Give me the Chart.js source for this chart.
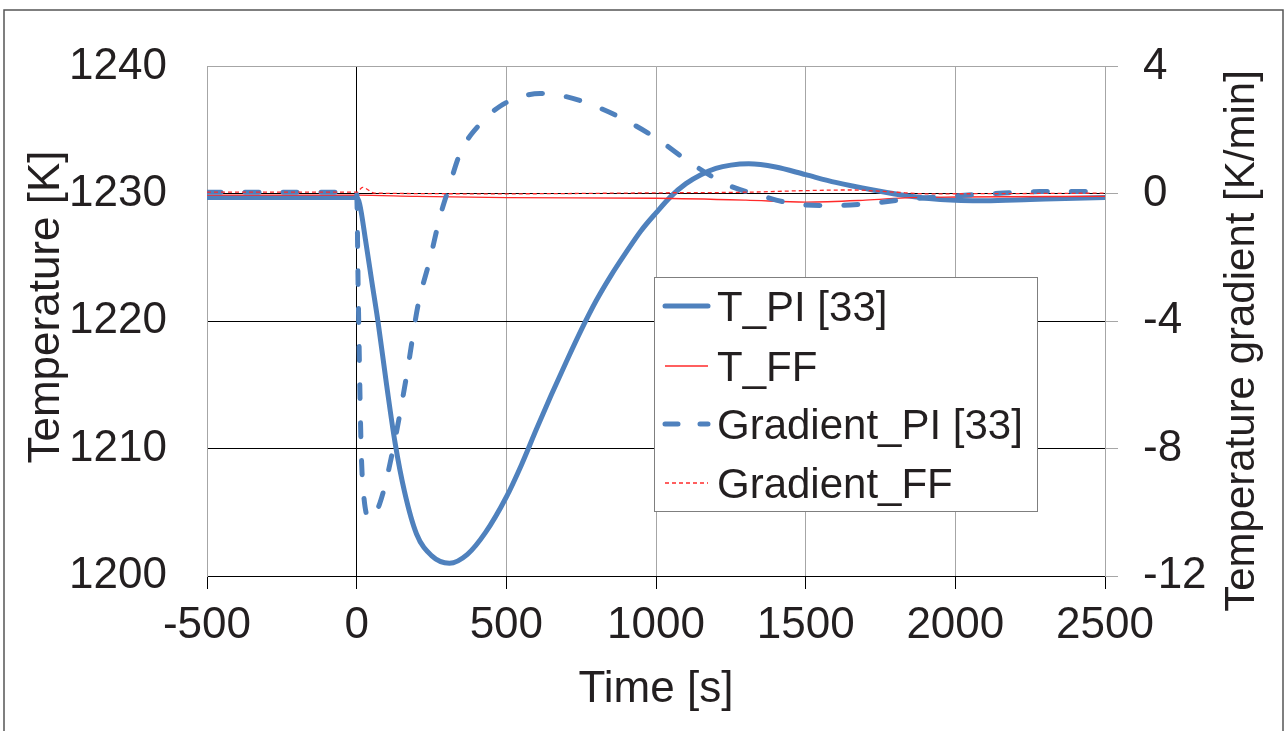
<!DOCTYPE html>
<html>
<head>
<meta charset="utf-8">
<script src="https://cdn.jsdelivr.net/npm/chart.js@4/dist/chart.umd.min.js"></script>
<style>
  body { margin: 0; background: #fff; }
  #chart { display: block; }
</style>
</head>
<body>
<canvas id="chart" width="1288" height="731"></canvas>
<script>
// Data
const tTempPI = [-500, 0, 10, 30, 50, 71, 100, 128, 160, 200, 250, 310, 370, 430, 500, 550, 600, 650, 700, 750, 800, 850, 900, 950, 1000, 1050, 1100, 1150, 1200, 1250, 1310, 1400, 1500, 1600, 1725, 1850, 1950, 2100, 2250, 2400, 2500];
const tempPI = [1229.7, 1229.7, 1229.2, 1226.3, 1223.2, 1220.0, 1215.0, 1210.5, 1206.6, 1203.3, 1201.6, 1201.0, 1201.7, 1203.4, 1206.2, 1208.7, 1211.5, 1214.2, 1216.8, 1219.3, 1221.6, 1223.6, 1225.4, 1227.1, 1228.5, 1229.8, 1230.8, 1231.5, 1232.0, 1232.25, 1232.35, 1232.1, 1231.5, 1230.9, 1230.3, 1229.8, 1229.55, 1229.45, 1229.55, 1229.65, 1229.7];

const tTempFF = [-500, 0, 200, 500, 1000, 1300, 1500, 1700, 1850, 2000, 2500];
const tempFF = [1229.9, 1229.9, 1229.8, 1229.7, 1229.65, 1229.5, 1229.35, 1229.5, 1229.7, 1229.75, 1229.8];

const tGradPI = [-500, 0, 5, 15, 25, 45, 78, 122, 167, 205, 245, 279, 306, 346, 413, 479, 550, 613, 700, 813, 900, 1000, 1114, 1237, 1348, 1472, 1592, 1716, 1840, 1973, 2116, 2283, 2500];
const gradPI = [0.05, 0.05, -3.0, -8.0, -9.6, -10.2, -9.7, -8.0, -5.7, -3.5, -2.05, -0.7, 0.13, 1.28, 2.2, 2.75, 3.05, 3.15, 3.05, 2.69, 2.3, 1.75, 0.98, 0.29, -0.05, -0.33, -0.37, -0.3, -0.17, -0.08, 0.0, 0.07, 0.07];

const tGradFF = [-500, 0, 20, 60, 500, 1000, 1300, 1500, 1650, 1800, 1900, 2500];
const gradFF = [0.05, 0.05, 0.2, 0.02, 0.0, 0.03, 0.05, 0.1, 0.12, 0.05, 0.0, 0.02];

const xTicks = [-500, 0, 500, 1000, 1500, 2000, 2500];
const leftTicks = [1200, 1210, 1220, 1230, 1240];
const rightTicks = [-12, -8, -4, 0, 4];

const blue = "#4f81bd";
const red = "#ff2a2a";
const font = "'Liberation Sans', Arial, sans-serif";

function pts(xs, ys) {
  return xs.map((x, i) => ({ x: x, y: ys[i] }));
}

// outer frame, axis titles and the boxed legend
const extras = {
  id: "extras",
  beforeDraw(chart) {
    const c = chart.ctx;
    c.save();
    c.fillStyle = "#fff";
    c.fillRect(0, 0, chart.width, chart.height);
    c.strokeStyle = "#555";
    c.lineWidth = 1.5;
    c.strokeRect(4, 10, 1279, 800);
    c.restore();
  },
  afterDraw(chart) {
    const c = chart.ctx;
    c.save();
    c.fillStyle = "#231f20";
    c.font = "44px " + font;
    c.textAlign = "center";
    c.textBaseline = "alphabetic";
    c.fillText("Time [s]", 656, 702);

    c.save();
    c.translate(59, 307);
    c.rotate(-Math.PI / 2);
    c.fillText("Temperature [K]", 0, 0);
    c.restore();

    c.save();
    c.translate(1254, 341);
    c.rotate(-Math.PI / 2);
    c.font = "42px " + font;
    c.fillText("Temperature gradient [K/min]", 0, 0);
    c.restore();

    // legend
    c.fillStyle = "#fff";
    c.fillRect(654, 277, 383, 234);
    c.strokeStyle = "#7f7f7f";
    c.lineWidth = 1;
    c.strokeRect(654.5, 277.5, 383, 234);

    const rows = [306, 366, 424, 483];
    c.font = "42px " + font;
    c.textAlign = "left";
    chart.data.datasets.forEach((ds, i) => {
      const y = rows[i];
      c.save();
      c.strokeStyle = ds.borderColor;
      c.lineWidth = ds.borderWidth;
      c.lineCap = ds.borderCapStyle || "butt";
      c.setLineDash(ds.legendDash || []);
      c.beginPath();
      c.moveTo(665, y);
      c.lineTo(708, y);
      c.stroke();
      c.restore();
      c.fillStyle = "#231f20";
      c.fillText(ds.label, 717, y + 15);
    });
    c.restore();
  }
};

const plain = v => String(v);

const ctx = document.getElementById("chart").getContext("2d");
new Chart(ctx, {
  type: "scatter",
  data: {
    datasets: [
      { label: "T_PI [33]", data: pts(tTempPI, tempPI), yAxisID: "y", showLine: true, borderColor: blue, borderWidth: 5, borderCapStyle: "round", pointRadius: 0, cubicInterpolationMode: "monotone", order: 4 },
      { label: "T_FF", data: pts(tTempFF, tempFF), yAxisID: "y", showLine: true, borderColor: red, borderWidth: 1.3, pointRadius: 0, cubicInterpolationMode: "monotone", order: 3 },
      { label: "Gradient_PI [33]", data: pts(tGradPI, gradPI), yAxisID: "y2", showLine: true, borderColor: blue, borderWidth: 5, borderCapStyle: "round", borderDash: [14, 24], legendDash: [13, 22], pointRadius: 0, cubicInterpolationMode: "monotone", order: 2 },
      { label: "Gradient_FF", data: pts(tGradFF, gradFF), yAxisID: "y2", showLine: true, borderColor: red, borderWidth: 1.3, borderDash: [4, 3], legendDash: [4, 3], pointRadius: 0, cubicInterpolationMode: "monotone", order: 1 }
    ]
  },
  options: {
    responsive: false,
    animation: false,
    layout: { padding: { top: 63, left: 0, right: 0, bottom: 0 } },
    plugins: { legend: { display: false }, tooltip: { enabled: false } },
    scales: {
      x: {
        type: "linear",
        min: -500, max: 2500,
        afterBuildTicks: axis => { axis.ticks = xTicks.map(v => ({ value: v })); },
        afterFit: axis => { axis.height = 155; },
        ticks: { font: { size: 44, family: font }, color: "#231f20", padding: 10, callback: plain },
        grid: {
          color: c => (c.tick && c.tick.value === 0 ? "#000" : "#a6a6a6"),
          tickColor: "#000",
          tickLength: 13,
          lineWidth: 1
        },
        border: { color: "#000", width: 1 }
      },
      y: {
        position: "left",
        min: 1200, max: 1240,
        afterBuildTicks: axis => { axis.ticks = leftTicks.map(v => ({ value: v })); },
        afterFit: axis => { axis.width = 207; },
        ticks: { font: { size: 44, family: font }, color: "#231f20", padding: 40, callback: plain },
        grid: {
          color: c => (c.tick && c.tick.value === 1240 ? "#a6a6a6" : "#000"),
          drawTicks: false,
          lineWidth: 1
        },
        border: { color: "#a6a6a6", width: 1 }
      },
      y2: {
        position: "right",
        min: -12, max: 4,
        afterBuildTicks: axis => { axis.ticks = rightTicks.map(v => ({ value: v })); },
        afterFit: axis => { axis.width = 183; },
        ticks: { font: { size: 44, family: font }, color: "#231f20", padding: 25, callback: plain },
        grid: { drawOnChartArea: false, color: "#a6a6a6", tickLength: 13, lineWidth: 1 },
        border: { color: "#a6a6a6", width: 1 }
      }
    }
  },
  plugins: [extras]
});
</script>
</body>
</html>
